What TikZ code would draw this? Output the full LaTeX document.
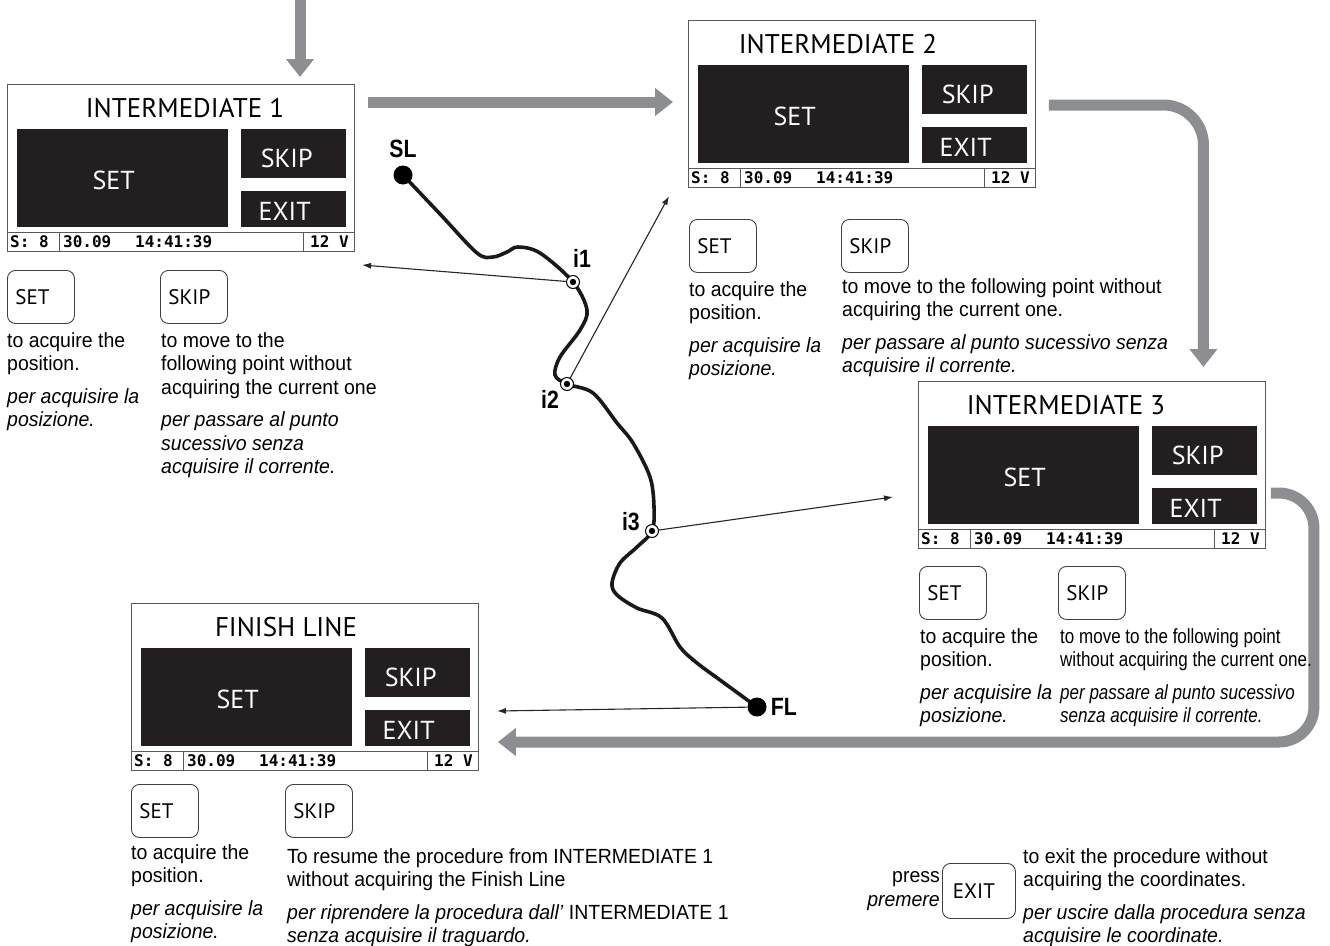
\documentclass[tikz,border=0pt]{standalone}
\usepackage{fontspec}
\setmainfont{Liberation Sans}[FakeStretch=0.95]
\newfontfamily\scrfont{PT Sans}
\newfontfamily\statfont{DejaVu Sans Mono}
\newfontfamily\trkfont{Liberation Sans}[FakeStretch=0.85]
\newfontfamily\narrowfont{Liberation Sans}[FakeStretch=0.83]
\usetikzlibrary{positioning,arrows.meta}
\definecolor{arrowgray}{RGB}{140,142,145}
\definecolor{lcdblack}{RGB}{35,31,32}

\begin{document}
\begin{tikzpicture}[x=1pt,y=-1pt,
  lcd/.style={draw=black!65, line width=0.9pt, minimum width=347pt, minimum height=167pt, anchor=north west, inner sep=0pt},
  lcdline/.style={draw=black!65, line width=0.9pt},
  lcdtitle/.style={inner sep=0pt, font=\scrfont\fontsize{27}{27}\selectfont},
  lcdkey/.style={fill=lcdblack, text=white, anchor=north west, inner sep=0pt, font=\scrfont\fontsize{26}{26}\selectfont},
  lcdstat/.style={anchor=west, inner sep=0pt, font=\statfont\bfseries\fontsize{16}{16}\selectfont},
  key/.style={draw=black!75, line width=0.9pt, rounded corners=8pt, minimum height=53pt, text width=51pt, inner xsep=8pt, anchor=north west, align=left, font=\scrfont\fontsize{21}{21}\selectfont},
  desc/.style={anchor=north west, inner sep=0pt, align=left, font=\fontsize{20.5}{23.5}\selectfont},
  descit/.style={desc, font=\fontsize{20.5}{23.5}\selectfont\itshape},
  bigarrow/.style={draw=arrowgray, line width=11pt, -{Triangle[length=18pt,width=27pt]}},
  thinarrow/.style={draw=black!85, line width=1.1pt, -{Latex[length=9pt,width=6pt]}},
  track/.style={draw=black!90, line width=3.6pt, line cap=round},
  endpt/.style={circle, fill=black, minimum size=19pt, inner sep=0pt},
  waypt/.style={circle, draw=black, line width=1pt, fill=white, minimum size=13pt, inner sep=0pt,
    path picture={\fill[black] (path picture bounding box.center) circle (3.2pt);}},
  trk/.style={inner sep=0pt, font=\trkfont\bfseries\fontsize{25}{25}\selectfont}]
\useasboundingbox (0,0) rectangle (1330,945);

\foreach \n/\sx/\sy/\ttl/\tx in {1/7/84/INTERMEDIATE 1/178, 2/688/20/INTERMEDIATE 2/150,
    3/918/381/INTERMEDIATE 3/148, 4/131/603/FINISH LINE/155}{
  \node[lcd] (s\n) at (\sx,\sy) {};
  \node[lcdtitle] (s\n-title) at (\sx+\tx,\sy+24) {\ttl};
  \node[lcdkey, minimum width=211pt, minimum height=98pt, text height=22pt] (s\n-set) at (\sx+10,\sy+45) {SET\kern18pt};
  \node[lcdkey, minimum width=105pt, minimum height=49pt, text height=27pt] (s\n-skip) at (\sx+234,\sy+45) {SKIP\kern14pt};
  \node[lcdkey, minimum width=105pt, minimum height=36pt, text height=23pt] (s\n-exit) at (\sx+234,\sy+107) {EXIT\kern18pt};
  \draw[lcdline] (\sx,\sy+148) -- (\sx+347,\sy+148)
    (\sx+52,\sy+148) -- (\sx+52,\sy+167) (\sx+296,\sy+148) -- (\sx+296,\sy+167);
  \node[lcdstat] (s\n-sat) at (\sx+3,\sy+158) {S: 8};
  \node[lcdstat] (s\n-date) at (\sx+56,\sy+158) {30.09};
  \node[lcdstat] (s\n-time) at (\sx+128,\sy+158) {14:41:39};
  \node[lcdstat] (s\n-volt) at (\sx+303,\sy+158) {12 V};
}

\draw[bigarrow] ([shift={(293,-84)}]s1.north west) -- ([shift={(293,-7)}]s1.north west);
\draw[bigarrow] ([shift={(13,18)}]s1.north east) -- ([shift={(-15,82)}]s2.north west);
\draw[bigarrow, rounded corners=40pt] ([shift={(13,85)}]s2.north east) -| ([shift={(111.5,-14)}]s3.north);
\draw[bigarrow, rounded corners=35pt] ([shift={(5,112)}]s3.north east) -- ++(43,0) |- ([shift={(19,139)}]s4.north east);

\draw[track] plot[smooth, tension=0.55] coordinates {(403,175) (440,214) (477,253) (493,257) (507,252)
  (518,247) (540,253) (573,282) (587,310) (580,330) (560,357) (555,375) (567,384) (593,393) (617,423)
  (633,443) (650,477) (654,507) (652,531) (637,547) (620,563) (612,583) (617,595) (637,608) (662,618)
  (680,647) (697,663) (720,680) (757,707)};

\node[endpt] (SL) at (403,175) {};
\node[endpt] (FL) at (757,707) {};
\node[waypt] (i1) at (573,282) {};
\node[waypt] (i2) at (567,384) {};
\node[waypt] (i3) at (652,531) {};
\node[trk, above=7pt of SL] (SL-lbl) {SL};
\node[trk, right=4pt of FL] (FL-lbl) {FL};
\node[trk, above=7pt of i1, anchor=south west] (i1-lbl) {i1};
\node[trk, below left=1pt and 3pt of i2] (i2-lbl) {i2};
\node[trk, left=5pt of i3, anchor=south east] (i3-lbl) {i3};

\coordinate (t1) at (362,265);
\coordinate (t2) at (669,196);
\coordinate (t3) at (893,497);
\coordinate (t4) at (497,711);
\draw[thinarrow] (i1) -- (t1);
\draw[thinarrow] (i2) -- (t2);
\draw[thinarrow] (i3) -- (t3);
\draw[thinarrow] (FL) -- (t4);

\node[key] (k1-set) at (7,270) {SET};
\node[key] (k1-skip) at (160,270) {SKIP};
\node[desc] (d1-set) at (7,332) {to acquire the\\position.};
\node[descit, below=13pt of d1-set.south west, anchor=north west] (d1-set-it) {per acquisire la\\posizione.};
\node[desc] (d1-skip) at (161,332) {to move to the\\following point without\\acquiring the current one};
\node[descit, below=13pt of d1-skip.south west, anchor=north west] (d1-skip-it) {per passare al punto\\sucessivo senza\\acquisire il corrente.};

\node[key] (k2-set) at (689,219) {SET};
\node[key] (k2-skip) at (841,219) {SKIP};
\node[desc] (d2-set) at (689,281) {to acquire the\\position.};
\node[descit, below=13pt of d2-set.south west, anchor=north west] (d2-set-it) {per acquisire la\\posizione.};
\node[desc] (d2-skip) at (842,278) {to move to the following point without\\acquiring the current one.};
\node[descit, below=13pt of d2-skip.south west, anchor=north west] (d2-skip-it) {per passare al punto sucessivo senza\\acquisire il corrente.};

\node[key] (k3-set) at (919,566) {SET};
\node[key] (k3-skip) at (1058,566) {SKIP};
\node[desc] (d3-set) at (920,628) {to acquire the\\position.};
\node[descit, below=13pt of d3-set.south west, anchor=north west] (d3-set-it) {per acquisire la\\posizione.};
\node[desc, font=\narrowfont\fontsize{20.5}{23.5}\selectfont] (d3-skip) at (1060,628) {to move to the following point\\without acquiring the current one.};
\node[descit, font=\narrowfont\fontsize{20.5}{23.5}\selectfont\itshape, below=13pt of d3-skip.south west, anchor=north west] (d3-skip-it) {per passare al punto sucessivo\\senza acquisire il corrente.};

\node[key] (k4-set) at (131,784) {SET};
\node[key] (k4-skip) at (285,784) {SKIP};
\node[desc] (d4-set) at (131,844) {to acquire the\\position.};
\node[descit, below=13pt of d4-set.south west, anchor=north west] (d4-set-it) {per acquisire la\\posizione.};
\node[desc] (d4-skip) at (287,848) {To resume the procedure from INTERMEDIATE 1\\without acquiring the Finish Line};
\node[desc, below=13pt of d4-skip.south west, anchor=north west] (d4-skip-it) {\textit{per riprendere la procedura dall’} INTERMEDIATE 1\\\textit{senza acquisire il traguardo.}};

\node[key, minimum height=55pt, text width=52pt, inner xsep=10.5pt] (k-exit) at (942,863) {EXIT};
\node[desc, align=right, left=2pt of k-exit] (press) {press\\\textit{premere}};
\node[desc] (d-exit) at (1023,848) {to exit the procedure without\\acquiring the coordinates.};
\node[descit, below=13pt of d-exit.south west, anchor=north west] (d-exit-it) {per uscire dalla procedura senza\\acquisire le coordinate.};
\end{tikzpicture}
\end{document}
